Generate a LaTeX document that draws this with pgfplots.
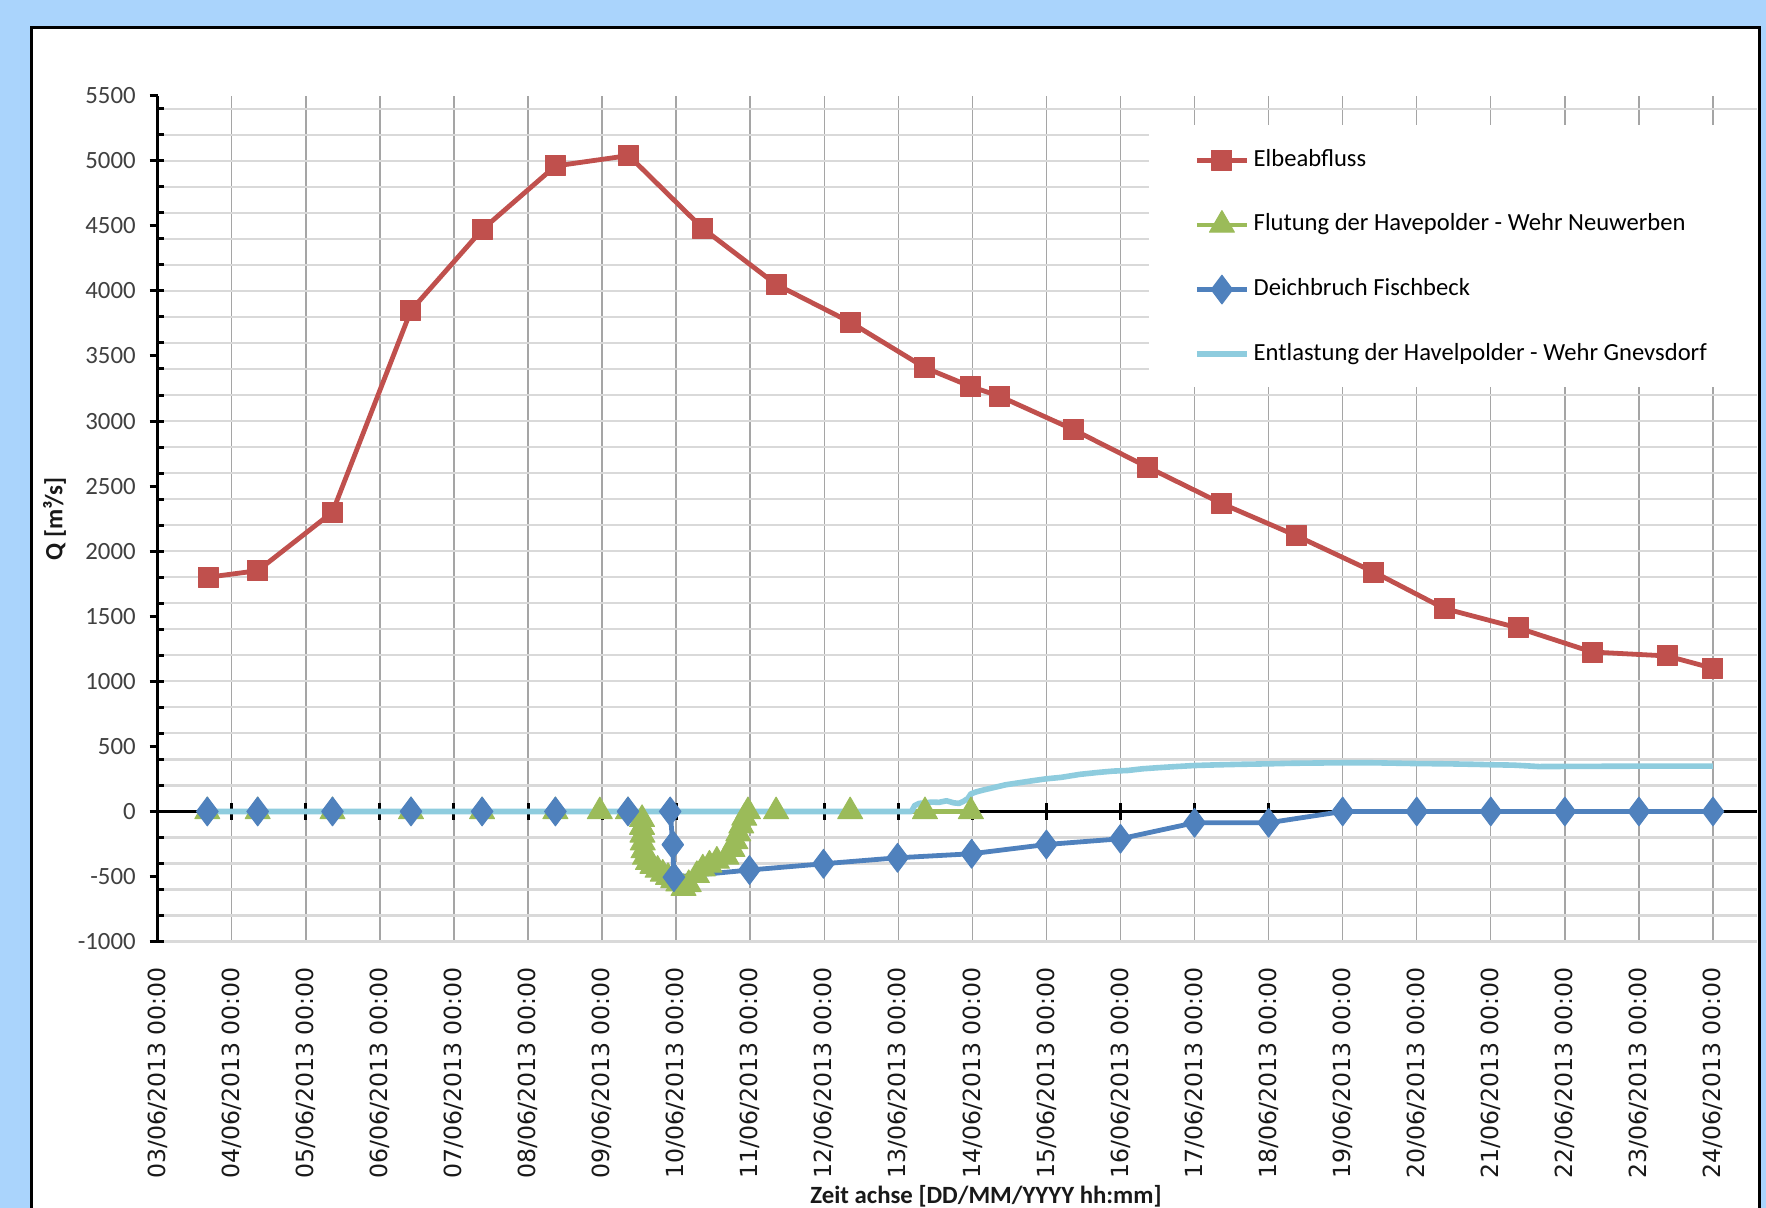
\documentclass[border=0pt]{standalone}
\usepackage{fontspec}
\setmainfont{Carlito}
\newfontfamily\dejavu{DejaVu Sans}
\usepackage{pgfplots}
\pgfplotsset{compat=1.18}
\definecolor{bgblue}{RGB}{170,212,252}
\definecolor{cred}{RGB}{192,80,77}
\definecolor{cgreen}{RGB}{155,187,89}
\definecolor{cblue}{RGB}{79,129,189}
\definecolor{clight}{RGB}{142,204,222}
\definecolor{gridh}{RGB}{217,217,217}
\definecolor{gridv}{RGB}{165,165,165}
\definecolor{ticktext}{RGB}{64,64,64}
\begin{document}
\begin{tikzpicture}
\useasboundingbox (0pt,0pt) rectangle (883pt,604pt);
\clip (0pt,0pt) rectangle (883pt,604pt);
\fill[bgblue] (0pt,0pt) rectangle (883pt,604pt);
\draw[black, line width=1.5pt, fill=white] (15.5pt,590pt) rectangle (879.5pt,-20pt);
\begin{axis}[
  at={(78.85pt,133.2pt)}, anchor=south west,
  scale only axis, width=799.65pt, height=422.95pt,
  xmin=0, xmax=21.595, ymin=-1000, ymax=5500,
  axis x line*=bottom, axis y line*=left,
  x axis line style={draw=none},
  y axis line style={black, line width=1.6pt, -},
  xtick={0,1,...,21},
  xticklabels={03/06/2013 00:00,04/06/2013 00:00,05/06/2013 00:00,06/06/2013 00:00,07/06/2013 00:00,08/06/2013 00:00,09/06/2013 00:00,10/06/2013 00:00,11/06/2013 00:00,12/06/2013 00:00,13/06/2013 00:00,14/06/2013 00:00,15/06/2013 00:00,16/06/2013 00:00,17/06/2013 00:00,18/06/2013 00:00,19/06/2013 00:00,20/06/2013 00:00,21/06/2013 00:00,22/06/2013 00:00,23/06/2013 00:00,24/06/2013 00:00},
  xtick style={draw=none},
  xmajorgrids,
  major grid style={gridv, line width=0.7pt},
  xticklabel style={font=\dejavu\fontsize{11.8}{14}\selectfont, rotate=90, anchor=east, inner sep=0pt, text=black!90},
  xticklabel shift=12.5pt,
  ytick={-1000,-500,...,5500},
  yticklabels={-1000,-500,0,500,1000,1500,2000,2500,3000,3500,4000,4500,5000,5500},
  ytick align=outside,
  major tick length=4pt,
  ytick style={black, line width=1.5pt},
  yticklabel style={font=\fontsize{12.4}{14}\selectfont, text=ticktext, anchor=east, inner sep=0pt, xshift=-6.8pt},
  extra y ticks={-1000,-800,...,5400},
  extra y tick labels={},
  extra y tick style={tick align=inside, major tick length=3pt, grid=major, major grid style={gridh, line width=1.1pt}},
  xlabel={Zeit achse [DD/MM/YYYY hh:mm]},
  xlabel style={font=\bfseries\fontsize{12.4}{14}\selectfont, at={(axis description cs:0.5179,-0.3012)}, anchor=center, text=black!90},
  ylabel={Q [m³/s]},
  ylabel style={font=\bfseries\fontsize{12.4}{14}\selectfont, at={(axis description cs:-0.0645,0.4996)}, anchor=center, text=black!90},
  legend style={at={(axis description cs:0.6478,0.9382)}, anchor=north west, draw=none, fill=none, inner xsep=0pt, inner ysep=0pt, row sep=19.1pt, font=\fontsize{12.3}{14}\selectfont, nodes={inner sep=0pt, text height=9pt, text depth=3pt}, /tikz/every odd column/.append style={column sep=2pt}},
  legend cell align=left,
  legend image code/.code={\draw[mark repeat=2,mark phase=2] plot coordinates {(0pt,0pt) (12.5pt,0pt) (25pt,0pt)};},
]
\fill[white] (rel axis cs:0.6199,0.9654) rectangle (rel axis cs:1.02,0.6556);
\draw[black, line width=1.5pt] (axis cs:0,0) -- (axis cs:21.595,0);
\pgfplotsinvokeforeach{1,...,21}{\draw[black, line width=1.5pt] ([yshift=-4.2pt]axis cs:#1,0) -- ([yshift=4.2pt]axis cs:#1,0);}
\addplot[cred, line width=2.4pt, line join=round, mark=square*, mark size=5pt, mark options={solid, fill=cred, draw=cred, line width=0.5pt}] coordinates {
(0.68,1800) (1.35,1850) (2.36,2300) (3.42,3850) (4.38,4470) (5.37,4960) (6.36,5040) (7.36,4480) (8.35,4050) (9.35,3760) (10.36,3410) (10.98,3265) (11.37,3190) (12.36,2935) (13.37,2645) (14.37,2365) (15.37,2120) (16.42,1840) (17.37,1560) (18.37,1410) (19.37,1225) (20.38,1195) (21.0,1100)
};
\addlegendentry{Elbeabfluss}
\addplot[cgreen, line width=2.4pt, line join=round, mark=triangle*, mark size=7.2pt, mark options={solid, fill=cgreen, draw=cgreen, line width=0.5pt}] coordinates {
(0.67,0) (1.35,0) (2.36,0) (3.42,0) (4.38,0) (5.37,0) (5.97,0) (6.35,0)
(6.54,-60) (6.54,-120) (6.545,-180) (6.55,-240) (6.56,-300) (6.58,-350) (6.62,-390) (6.68,-420) (6.75,-450) (6.82,-480) (6.89,-505) (6.96,-530) (7.03,-555) (7.10,-590) (7.17,-560) (7.28,-490) (7.36,-440) (7.45,-410) (7.55,-380) (7.68,-350) (7.76,-290) (7.80,-230) (7.84,-170) (7.88,-110) (7.92,-50) (7.97,0)
(8.35,0) (9.35,0) (10.36,0) (10.98,0)
};
\addlegendentry{Flutung der Havepolder - Wehr Neuwerben}
\addplot[cblue, line width=2.4pt, line join=round, mark=diamond*, mark size=7.2pt, mark options={solid, fill=cblue, draw=cblue, line width=0.5pt}] coordinates {
(0.67,0) (1.35,0) (2.36,0) (3.42,0) (4.38,0) (5.37,0) (6.35,0) (6.92,0) (6.955,-255) (6.97,-505) (7.99,-450) (8.99,-402) (9.99,-356) (10.99,-325) (12.0,-254) (13.0,-210) (14.0,-87) (15.0,-87) (16.0,0) (17.0,0) (18.0,0) (19.0,0) (20.0,0) (21.0,0)
};
\addlegendentry{Deichbruch Fischbeck}
\addplot[clight, line width=2.8pt, line join=round, no marks] coordinates {
(0.67,0) (10.18,0) (10.22,45) (10.28,62) (10.36,66) (10.45,72) (10.55,70) (10.65,82) (10.75,66) (10.82,62) (10.88,78) (10.94,100) (10.98,135) (11.05,150) (11.15,165) (11.3,185) (11.45,205) (11.6,218) (11.8,235) (12.0,251) (12.2,262) (12.45,285) (12.7,300) (12.9,310) (13.1,315) (13.3,328) (13.5,336) (13.75,345) (14.0,353) (14.3,358) (14.6,362) (15.0,366) (15.3,370) (15.6,372) (16.0,374) (16.4,374) (16.8,370) (17.0,368) (17.4,366) (17.8,362) (18.0,359) (18.3,356) (18.5,350) (18.65,345) (19.0,346) (19.5,347) (20.0,348) (20.5,348) (21.0,348)
};
\addlegendentry{Entlastung der Havelpolder - Wehr Gnevsdorf}
\end{axis}
\end{tikzpicture}
\end{document}
